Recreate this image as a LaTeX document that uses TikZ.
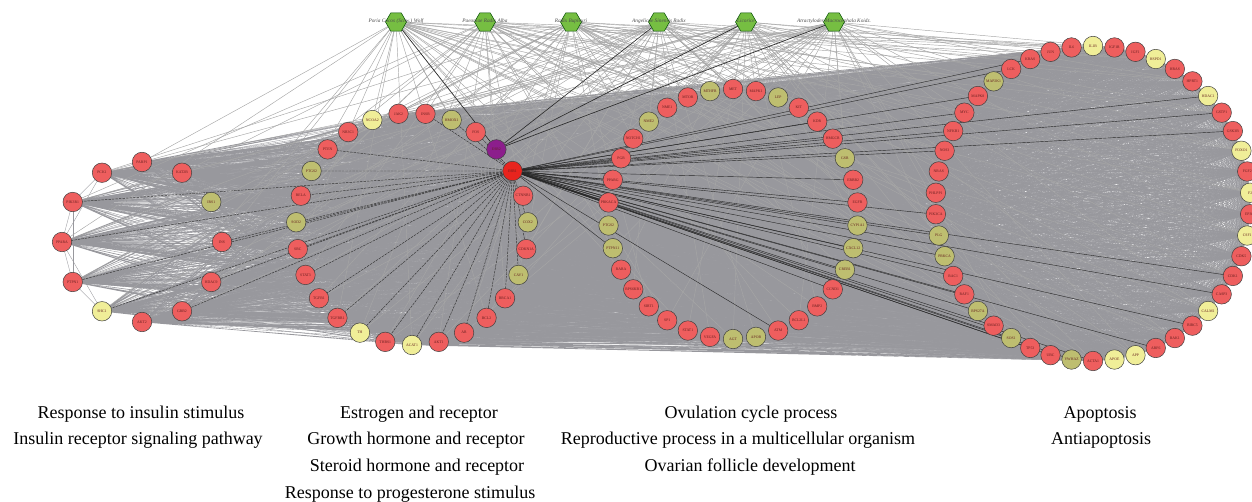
\documentclass[tikz,border=0pt]{standalone}
\usepackage{fontspec}
\setmainfont{Liberation Serif}
\usetikzlibrary{shapes.geometric}
\definecolor{cr}{RGB}{238,94,94}
\definecolor{co}{RGB}{190,190,112}
\definecolor{cy}{RGB}{240,238,152}
\definecolor{cesrone}{RGB}{232,36,30}
\definecolor{cesrtwo}{RGB}{140,30,140}
\definecolor{herbgreen}{RGB}{118,190,66}
\definecolor{edgegray}{RGB}{152,152,157}
\definecolor{genetext}{RGB}{100,30,30}
\pgfdeclarelayer{bg}\pgfdeclarelayer{dk}\pgfsetlayers{bg,dk,main}
\tikzset{
 gene/.style={circle,draw=black!75,line width=0.5pt,minimum size=19.5pt,inner sep=0pt,font=\fontsize{3.8}{4.2}\selectfont,text=genetext},
 herb/.style={regular polygon,regular polygon sides=6,minimum size=21pt,inner sep=0pt,fill=herbgreen,draw=black!70!green,line width=0.5pt},
 herblabel/.style={font=\fontsize{5.3}{6}\selectfont\itshape,text=black!70,inner sep=0pt},
 netedge/.style={draw=edgegray,line width=0.35pt},
 herbedge/.style={draw=black!35,line width=0.45pt},
 darkedge/.style={draw=black!85,line width=0.4pt},
 dashedge/.style={draw=black!80,line width=0.45pt,dash pattern=on 2.5pt off 1pt},
 captxt/.style={font=\fontsize{18}{20}\selectfont,anchor=base,inner sep=0pt}
}
\begin{document}
\begin{tikzpicture}[x=1pt,y=-1pt]
\useasboundingbox (0,0) rectangle (1252,502);
% herbs
\foreach \lab/\x [count=\h from 0] in {Poria Cocos (Schw.) Wolf/396,Paeoniae Radix Alba/485,Radix Bupleuri/571,Angelicae Sinensis Radix/659,Licorice/746,Atractylodes Macrocephala Koidz./834}
 {\node[herb] (H\h) at (\x,22) {};
  \node[herblabel] (HL\h) at (\x,21) {\lab};}
% cluster A
\foreach \lab/\c [count=\i from 0] in {AKT2/cr,GRB2/cr,HDAC9/cr,INS/cr,IRS1/co,KAT2B/cr,PARP1/cr,PCK1/cr,PIK3R1/cr,PPARA/cr,PTPN1/cr,SHC1/cy}
 {\node[gene,fill=\c] (A\i) at ({142+80*cos(-90+\i*30)},{242-80*sin(-90+\i*30)}) {\lab};}
% cluster B
\foreach \lab/\c [count=\i from 0] in {ACAT1/cy,AKT1/cr,AR/cr,BCL2/cr,BRCA1/cr,CAV1/co,CDKN1A/cr,COX2/co,CTNNB1/cr,ESR1/cesrone,ESR2/cesrtwo,FOS/cr,HMOX1/co,INSR/cr,JAK2/cr,NCOA2/cy,NR3C1/cr,PTEN/cr,PTGS2/co,RELA/cr,SOD2/co,SRC/cr,STAT3/cr,TGFB1/cr,TGFBR1/cr,TH/cy,THBS1/cr}
 {\node[gene,fill=\c] (B\i) at ({412+116*cos(-90+\i*13.3333)},{229-116*sin(-90+\i*13.3333)}) {\lab};}
% cluster C
\foreach \lab/\c [count=\i from 0] in {AGT/co,APOB/co,ATM/cr,BCL2L1/cr,BMP2/cr,CCND1/cr,CREB1/co,CXCL12/co,CYP1A1/co,EGFR/cr,ERBB2/cr,GSR/co,HMGCR/cr,KDR/cr,KIT/cr,LEP/co,MAPK1/cr,MET/cr,MTHFR/co,MTOR/cr,NME1/cr,NME2/co,NOTCH1/cr,PGR/cr,PPARG/cr,PRKACA/cr,PTGS2/co,PTPN11/co,RARA/cr,RPS6KB1/cr,SIRT1/cr,SP1/cr,STAT1/cr,VEGFA/cr}
 {\node[gene,fill=\c] (C\i) at ({733+125*cos(-90+\i*10.5882)},{214-125*sin(-90+\i*10.5882)}) {\lab};}
% cluster D
\foreach \lab/\c [count=\i from 0] in {ACTA1/cr,APOE/cy,APP/cy,ARF6/cr,BAK1/cr,BIRC5/cr,CALM1/cy,CASP3/cr,CDK1/cr,CDK5/cr,CSF1/cy,EP300/cr,F2/cy,FGF2/cr,FOXO1/cy,GSK3B/cr,GSTP1/cr,HDAC1/cy,HPRT1/cr,HRAS/cr,HSPD1/cy,IGF1/cr,IGF1R/cr,IL1B/cy,IL6/cr,JUN/cr,KRAS/cr,LCK/cr,MAP2K1/co,MAPK8/cr,MYC/cr,NFKB1/cr,NOS3/cr,NRAS/cr,PHLPP1/cr,PIK3CA/cr,PLG/co,PRKCA/co,RAC1/cr,RAF1/cr,RPS27A/co,SMAD3/cr,SOS1/co,TP53/cr,UBC/cr,YWHAZ/co}
 {\node[gene,fill=\c] (D\i) at ({1093+157.5*cos(-90+\i*7.82609)},{203.5-157.5*sin(-90+\i*7.82609)}) {\lab};}
% gray network
\begin{pgfonlayer}{bg}
\foreach \i in {0,...,11}{
  \draw[netedge] \foreach \j in {0,...,26}{(A\i.center)--(B\j.center)};
  \draw[netedge] \foreach \j in {0,...,33}{(A\i.center)--(C\j.center)};
  \draw[netedge] \foreach \j in {0,...,45}{(A\i.center)--(D\j.center)};}
\foreach \i in {0,...,26}{
  \draw[netedge] \foreach \j in {0,...,33}{(B\i.center)--(C\j.center)};
  \draw[netedge] \foreach \j in {0,...,45}{(B\i.center)--(D\j.center)};}
\foreach \i in {0,...,33}{
  \draw[netedge] \foreach \j in {0,...,45}{(C\i.center)--(D\j.center)};}
\foreach \i in {0,...,25}{\pgfmathtruncatemacro\k{\i+1}
  \draw[netedge] \foreach \j in {\k,...,26}{(B\i.center)--(B\j.center)};}
\foreach \i in {0,...,32}{\pgfmathtruncatemacro\k{\i+1}
  \draw[netedge] \foreach \j in {\k,...,33}{(C\i.center)--(C\j.center)};}
\foreach \i in {0,...,44}{\pgfmathtruncatemacro\k{\i+1}
  \draw[netedge] \foreach \j in {\k,...,45}{(D\i.center)--(D\j.center)};}
\foreach \a/\b in {7/8,8/9,9/10,10/11,6/7,8/10,9/11,7/9,3/4,4/5}
  {\draw[netedge] (A\a.center)--(A\b.center);}
% herb connections
\foreach \h in {0,...,5}{
  \foreach \i in {0,...,11}{\pgfmathtruncatemacro\t{mod(\i+\h,3)}\ifnum\t=0 \draw[herbedge] (H\h)--(A\i.center);\fi}
  \foreach \i in {0,...,26}{\pgfmathtruncatemacro\t{mod(\i+2*\h,3)}\ifnum\t=0 \draw[herbedge] (H\h)--(B\i.center);\fi}
  \foreach \i in {0,...,33}{\pgfmathtruncatemacro\t{mod(\i+\h,4)}\ifnum\t=0 \draw[herbedge] (H\h)--(C\i.center);\fi}
  \foreach \i in {0,...,45}{\pgfmathtruncatemacro\t{mod(\i+2*\h,4)}\ifnum\t=0 \draw[herbedge] (H\h)--(D\i.center);\fi}
}
\end{pgfonlayer}
% highlighted connections
\begin{pgfonlayer}{dk}
\foreach \h in {0,3,4,5}{\draw[darkedge,line width=0.6pt] (H\h)--(B10);}
\foreach \j in {0,1,2,3,4,5,6,7,11,12,13,17,18,19,20,21,22,23,24,25,26}{\draw[dashedge] (B9.center)--(B\j.center);}
\foreach \j in {1,2,3,8,9,10,11}{\draw[dashedge] (B9.center)--(A\j.center);}
\foreach \j in {2,5,6,7,8,9,10,12,13,23,24,25,27}{\draw[darkedge] (B9.center)--(C\j.center);}
\foreach \j in {0,3,5,7,8,15,16,17,26,27,29,30,31,32,35,36,37,38,39,40,41,42,43,44,45}{\draw[darkedge] (B9.center)--(D\j.center);}
\end{pgfonlayer}
% captions
\node[captxt] (t1) at (141,418) {Response to insulin stimulus};
\node[captxt] (t2) at (138,444) {Insulin receptor signaling pathway};
\node[captxt] (t3) at (419,418) {Estrogen and receptor};
\node[captxt] (t4) at (416,444) {Growth hormone and receptor};
\node[captxt] (t5) at (417,471) {Steroid hormone and receptor};
\node[captxt] (t6) at (410,498) {Response to progesterone stimulus};
\node[captxt] (t7) at (751,418) {Ovulation cycle process};
\node[captxt] (t8) at (738,444) {Reproductive process in a multicellular organism};
\node[captxt] (t9) at (750,471) {Ovarian follicle development};
\node[captxt] (t10) at (1100,418) {Apoptosis};
\node[captxt] (t11) at (1101,444) {Antiapoptosis};
\end{tikzpicture}
\end{document}
